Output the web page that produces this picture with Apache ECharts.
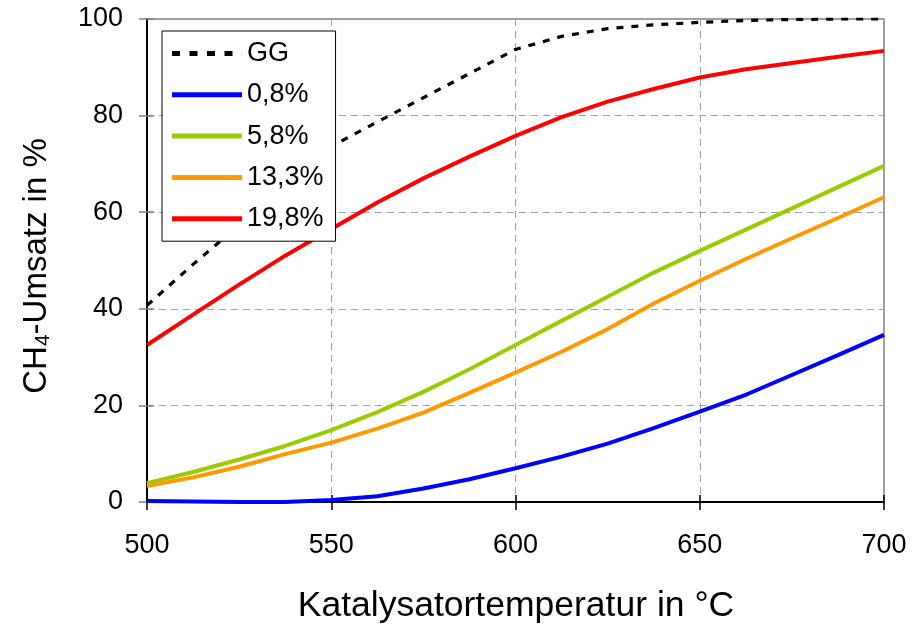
<!DOCTYPE html>
<html>
<head>
<meta charset="utf-8">
<script src="https://cdn.jsdelivr.net/npm/echarts@6/dist/echarts.min.js"></script>
<style>
  html, body { margin: 0; padding: 0; background: #ffffff; }
  #chart { width: 920px; height: 627px; }
</style>
</head>
<body>
<div id="chart"></div>
<script>
// Catalyst temperature in °C
const temperatures = [500, 512.5, 525, 537.5, 550, 562.5, 575, 587.5, 600, 612.5, 625, 637.5, 650, 662.5, 675, 687.5, 700];

// CH4 conversion in %
const ggValues   = [40.7, 49.2, 57.3, 65.4, 73.6, 78.7, 83.7, 88.7, 93.7, 96.4, 98.0, 98.8, 99.3, 99.7, 99.9, 100, 100];
const conv08     = [0.2, 0.1, 0.0, 0.0, 0.4, 1.2, 2.8, 4.7, 7.0, 9.4, 12.1, 15.3, 18.7, 22.2, 26.3, 30.4, 34.6];
const conv58     = [3.9, 6.2, 8.8, 11.6, 14.9, 18.6, 22.8, 27.5, 32.5, 37.5, 42.5, 47.5, 52.0, 56.4, 60.8, 65.2, 69.6];
const conv133    = [3.3, 5.1, 7.3, 9.9, 12.3, 15.2, 18.5, 22.6, 26.8, 31.1, 35.8, 41.1, 45.8, 50.3, 54.6, 58.8, 63.1];
const conv198    = [32.5, 38.8, 45.0, 51.0, 56.5, 62.0, 67.0, 71.5, 75.8, 79.7, 82.9, 85.5, 87.9, 89.6, 90.9, 92.2, 93.4];

const seriesNames = ['GG', '0,8%', '5,8%', '13,3%', '19,8%'];
const xTicks = [500, 550, 600, 650, 700];
const yTicks = [0, 20, 40, 60, 80, 100];

const FONT = '"Liberation Sans", Arial, sans-serif';

function pairs(values) {
  return temperatures.map((t, i) => [t, values[i]]);
}

// Legend keys: a solid bar for measured series, four short dashes for GG
const SOLID_KEY = 'rect';
const DASH_KEY = 'path://M0,0h8v5h-8zM17.5,0h8v5h-8zM35,0h8v5h-8zM52.5,0h8v5h-8zM69.9,0h0.1v5h-0.1z';

const chart = echarts.init(document.getElementById('chart'), null, { renderer: 'canvas' });

const gridLine = { show: true, lineStyle: { color: '#a0a0a0', width: 1, type: [7, 5] } };

const option = {
  backgroundColor: '#ffffff',
  animation: false,
  grid: {
    left: 147, right: 36, top: 19, bottom: 125,
    show: true, borderColor: '#808080', borderWidth: 1.5, backgroundColor: 'transparent'
  },
  legend: {
    orient: 'vertical',
    left: 162, top: 31,
    padding: [9, 12, 9, 10],
    itemWidth: 70, itemHeight: 5, itemGap: 14.3,
    backgroundColor: '#ffffff',
    borderColor: '#000000', borderWidth: 1,
    textStyle: { fontFamily: FONT, fontSize: 27, color: '#000000' },
    data: [
      { name: seriesNames[0], icon: DASH_KEY },
      { name: seriesNames[1], icon: SOLID_KEY },
      { name: seriesNames[2], icon: SOLID_KEY },
      { name: seriesNames[3], icon: SOLID_KEY },
      { name: seriesNames[4], icon: SOLID_KEY }
    ]
  },
  xAxis: [
    {
      type: 'value', min: xTicks[0], max: xTicks[xTicks.length - 1], interval: 50,
      axisLine: { show: true, onZero: false, lineStyle: { color: '#000000', width: 2 } },
      axisTick: { show: true, inside: false, length: 8, lineStyle: { color: '#000000', width: 1.5 } },
      axisLabel: { margin: 30, fontFamily: FONT, fontSize: 27, color: '#000000' },
      splitLine: gridLine
    },
    {
      type: 'value', min: xTicks[0], max: xTicks[xTicks.length - 1], interval: 50, position: 'bottom',
      axisLine: { show: false },
      axisTick: { show: true, inside: true, length: 7, lineStyle: { color: '#000000', width: 1.5 } },
      axisLabel: { show: false }, splitLine: { show: false }
    }
  ],
  yAxis: [
    {
      type: 'value', min: yTicks[0], max: yTicks[yTicks.length - 1], interval: 20,
      axisLine: { show: true, onZero: false, lineStyle: { color: '#000000', width: 2 } },
      axisTick: { show: true, inside: false, length: 8, lineStyle: { color: '#808080', width: 1.5 } },
      axisLabel: { margin: 24, fontFamily: FONT, fontSize: 27, color: '#000000' },
      splitLine: gridLine
    },
    {
      type: 'value', min: yTicks[0], max: yTicks[yTicks.length - 1], interval: 20, position: 'left',
      axisLine: { show: false },
      axisTick: { show: true, inside: true, length: 7, lineStyle: { color: '#808080', width: 1.5 } },
      axisLabel: { show: false }, splitLine: { show: false }
    }
  ],
  graphic: [
    {
      type: 'text', x: 516, y: 606,
      style: {
        text: 'Katalysatortemperatur in °C',
        font: '35.5px ' + FONT, fill: '#000000',
        textAlign: 'center', textVerticalAlign: 'middle'
      }
    },
    {
      type: 'text', x: 37, y: 266, rotation: Math.PI / 2,
      style: {
        text: 'CH{sub|4}-Umsatz in %',
        font: '33px ' + FONT, fill: '#000000',
        textAlign: 'center', textVerticalAlign: 'middle',
        rich: {
          sub: { fontSize: 21, fontFamily: FONT, fill: '#000000', padding: [12, 0, 0, 0] }
        }
      }
    }
  ],
  series: [
    {
      name: seriesNames[0], type: 'line', data: pairs(ggValues), symbol: 'none',
      lineStyle: { color: '#000000', width: 3.2, type: [7, 8] }, itemStyle: { color: '#000000' }, z: 3
    },
    {
      name: seriesNames[1], type: 'line', data: pairs(conv08), symbol: 'none',
      lineStyle: { color: '#0000ff', width: 4 }, itemStyle: { color: '#0000ff' }
    },
    {
      name: seriesNames[2], type: 'line', data: pairs(conv58), symbol: 'none',
      lineStyle: { color: '#99cc00', width: 4 }, itemStyle: { color: '#99cc00' }
    },
    {
      name: seriesNames[3], type: 'line', data: pairs(conv133), symbol: 'none',
      lineStyle: { color: '#ff9900', width: 4 }, itemStyle: { color: '#ff9900' }
    },
    {
      name: seriesNames[4], type: 'line', data: pairs(conv198), symbol: 'none',
      lineStyle: { color: '#ff0000', width: 4 }, itemStyle: { color: '#ff0000' }
    }
  ]
};

chart.setOption(option);
</script>
</body>
</html>
